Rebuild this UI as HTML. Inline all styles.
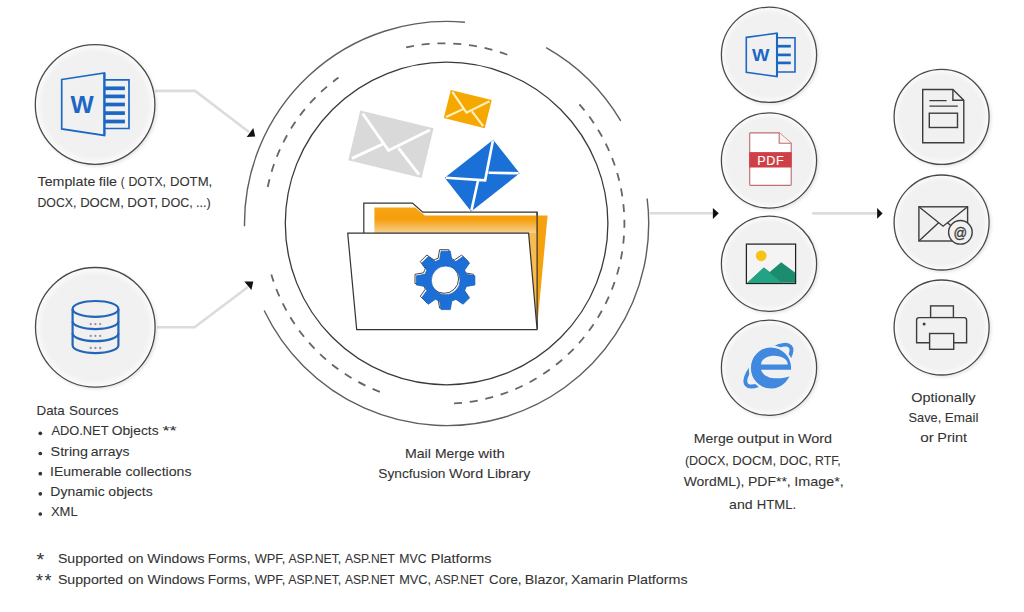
<!DOCTYPE html>
<html><head><meta charset="utf-8"><title>Mail Merge</title>
<style>
html,body{margin:0;padding:0;background:#fff;}
body{width:1024px;height:612px;overflow:hidden;}
svg{display:block;font-family:"Liberation Sans",sans-serif;}
</style></head>
<body>
<svg width="1024" height="612" viewBox="0 0 1024 612">
<rect width="1024" height="612" fill="#fff"/>
<path d="M155.3,90.9 H195.1 L249,132" stroke="#dcdcdc" stroke-width="2.6" fill="none"/>
<path d="M246.7,137 L253.3,128 L255.2,136.6 Z" fill="#111"/>
<path d="M157,327.2 H194.5 L248,287" stroke="#dcdcdc" stroke-width="2.6" fill="none"/>
<path d="M244.3,281.4 L253.3,281.6 L251.4,290 Z" fill="#111"/>
<path d="M649.7,213.3 H713" stroke="#dcdcdc" stroke-width="2.6" fill="none"/>
<path d="M712.9,208 L718.8,213.3 L712.9,219 Z" fill="#111"/>
<path d="M812.2,213.4 H877.2" stroke="#dcdcdc" stroke-width="2.6" fill="none"/>
<path d="M877.1,208.1 L882.6,213.4 L877.1,218.8 Z" fill="#111"/>
<path d="M244.52,226.32 A202.1,202.1 0 0 1 464.92,22.23" stroke="#5e5e5e" stroke-width="1.4" fill="none"/>
<path d="M546.12,47.60 A202.1,202.1 0 0 1 620.74,120.93" stroke="#5e5e5e" stroke-width="1.4" fill="none"/>
<path d="M647.15,198.52 A202.1,202.1 0 0 1 264.19,310.51" stroke="#5e5e5e" stroke-width="1.4" fill="none"/>
<path d="M267.74,186.96 A180.2,180.2 0 0 1 338.54,77.53" stroke="#666" stroke-width="1.8" fill="none" stroke-dasharray="8 7.8"/>
<path d="M406.12,47.37 A180.2,180.2 0 0 1 507.60,54.82" stroke="#666" stroke-width="1.8" fill="none" stroke-dasharray="8 7.8"/>
<path d="M579.37,104.33 A180.2,180.2 0 0 1 451.43,403.55" stroke="#666" stroke-width="1.8" fill="none" stroke-dasharray="8 7.8"/>
<path d="M379.92,391.84 A180.2,180.2 0 0 1 271.33,274.38" stroke="#666" stroke-width="1.8" fill="none" stroke-dasharray="8 7.8"/>
<circle cx="446.6" cy="223.5" r="161.3" stroke="#3a3a3a" stroke-width="1.3" fill="none"/>
<g transform="translate(360.3,110.5) rotate(13.6)"><rect x="0" y="0" width="75.4" height="51.1" fill="#d9d9d9" /><path d="M3.2,2.6 L36.9,32.2 L72.2,2.6 M3.2,48.5 L29.4,27.6 M72.2,48.5 L46.0,27.6" stroke="#fff" stroke-width="2.9" fill="none" stroke-linejoin="miter"/></g>
<g transform="translate(450.8,89.9) rotate(14)"><rect x="0" y="0" width="42.2" height="29" fill="#f6a800" /><path d="M2.0,1.6 L20.7,18.3 L40.2,1.6 M2.0,27.4 L16.5,15.7 M40.2,27.4 L25.7,15.7" stroke="#fff0c0" stroke-width="2.2" fill="none" stroke-linejoin="miter"/></g>
<path d="M363.8,233.1 V203.1 H412.5 L422.7,212.2 H537.1 V329" fill="#fff" stroke="#333" stroke-width="1.2"/>
<defs><linearGradient id="og" gradientUnits="userSpaceOnUse" x1="0" y1="207" x2="0" y2="233.5"><stop offset="0" stop-color="#f7a616"/><stop offset="0.45" stop-color="#f69e0a"/><stop offset="0.7" stop-color="#f6b546"/><stop offset="1" stop-color="#f3d49c"/></linearGradient></defs>
<path d="M374.4,233.6 V207.4 H415.2 L424.9,215.5 H537.1 V233.6 Z" fill="url(#og)"/>
<path d="M536.5,215.5 H547.6 L537.5,323 L536.5,323 Z" fill="#f6a20e"/>
<path d="M528.0,233.0 H537.1 V329 Z" fill="#f8bb4f"/>
<path d="M537.1,212.2 V329" stroke="#333" stroke-width="1.2" fill="none"/>
<g transform="translate(444.7,177.8) rotate(-38.2)"><rect x="0" y="0" width="61.7" height="42.8" fill="#1a70d6" /><path d="M0.8,0.6 L30.2,27.0 L60.9,0.6 M0.8,42.2 L24.1,23.1 M60.9,42.2 L37.6,23.1" stroke="#fff" stroke-width="2.6" fill="none" stroke-linejoin="miter"/></g>
<path d="M347.7,233.1 H528.6 L537.1,329.6 H356.7 Z" fill="#fff" stroke="#333" stroke-width="1.2" stroke-linejoin="round"/>
<path d="M439.20,259.38 L440.70,250.80 L449.90,250.80 L451.40,259.38 A21.5,21.5 0 0 1 455.56,261.11 L462.69,256.10 L469.20,262.61 L464.19,269.74 A21.5,21.5 0 0 1 465.92,273.90 L474.50,275.40 L474.50,284.60 L465.92,286.10 A21.5,21.5 0 0 1 464.19,290.26 L469.20,297.39 L462.69,303.90 L455.56,298.89 A21.5,21.5 0 0 1 451.40,300.62 L449.90,309.20 L440.70,309.20 L439.20,300.62 A21.5,21.5 0 0 1 435.04,298.89 L427.91,303.90 L421.40,297.39 L426.41,290.26 A21.5,21.5 0 0 1 424.68,286.10 L416.10,284.60 L416.10,275.40 L424.68,273.90 A21.5,21.5 0 0 1 426.41,269.74 L421.40,262.61 L427.91,256.10 L435.04,261.11 A21.5,21.5 0 0 1 439.20,259.38 Z M459.70,280.00 A14.4,14.4 0 1 0 430.90,280.00 A14.4,14.4 0 1 0 459.70,280.00 Z" transform="translate(-1.1,-1.1)" fill="#fff" fill-rule="evenodd" stroke="#333" stroke-width="0.9"/>
<path d="M439.20,259.38 L440.70,250.80 L449.90,250.80 L451.40,259.38 A21.5,21.5 0 0 1 455.56,261.11 L462.69,256.10 L469.20,262.61 L464.19,269.74 A21.5,21.5 0 0 1 465.92,273.90 L474.50,275.40 L474.50,284.60 L465.92,286.10 A21.5,21.5 0 0 1 464.19,290.26 L469.20,297.39 L462.69,303.90 L455.56,298.89 A21.5,21.5 0 0 1 451.40,300.62 L449.90,309.20 L440.70,309.20 L439.20,300.62 A21.5,21.5 0 0 1 435.04,298.89 L427.91,303.90 L421.40,297.39 L426.41,290.26 A21.5,21.5 0 0 1 424.68,286.10 L416.10,284.60 L416.10,275.40 L424.68,273.90 A21.5,21.5 0 0 1 426.41,269.74 L421.40,262.61 L427.91,256.10 L435.04,261.11 A21.5,21.5 0 0 1 439.20,259.38 Z M459.70,280.00 A14.4,14.4 0 1 0 430.90,280.00 A14.4,14.4 0 1 0 459.70,280.00 Z" transform="translate(0.4,0.4)" fill="#1b6fd6" fill-rule="evenodd" stroke="#1459b0" stroke-width="0.7"/>
<defs><radialGradient id="cg"><stop offset="0" stop-color="#f0f0f0"/><stop offset="0.87" stop-color="#f1f1f1"/><stop offset="1" stop-color="#fbfbfb"/></radialGradient><filter id="sh" x="-20%" y="-20%" width="140%" height="140%"><feDropShadow dx="1.5" dy="1.5" stdDeviation="1.8" flood-color="#000" flood-opacity="0.10"/></filter></defs>
<circle cx="95.1" cy="104.5" r="59.8" fill="url(#cg)" stroke="#4a4a4a" stroke-width="1.3" filter="url(#sh)"/>
<circle cx="95.3" cy="327.3" r="59.8" fill="url(#cg)" stroke="#4a4a4a" stroke-width="1.3" filter="url(#sh)"/>
<circle cx="769" cy="54.8" r="47.6" fill="url(#cg)" stroke="#4a4a4a" stroke-width="1.3" filter="url(#sh)"/>
<circle cx="769" cy="160.5" r="47.6" fill="url(#cg)" stroke="#4a4a4a" stroke-width="1.3" filter="url(#sh)"/>
<circle cx="769" cy="263.7" r="47.6" fill="url(#cg)" stroke="#4a4a4a" stroke-width="1.3" filter="url(#sh)"/>
<circle cx="769" cy="367.7" r="47.6" fill="url(#cg)" stroke="#4a4a4a" stroke-width="1.3" filter="url(#sh)"/>
<circle cx="941.6" cy="116.9" r="47.5" fill="url(#cg)" stroke="#4a4a4a" stroke-width="1.3" filter="url(#sh)"/>
<circle cx="941.6" cy="222.5" r="47.5" fill="url(#cg)" stroke="#4a4a4a" stroke-width="1.3" filter="url(#sh)"/>
<circle cx="941.6" cy="327.5" r="47.5" fill="url(#cg)" stroke="#4a4a4a" stroke-width="1.3" filter="url(#sh)"/>
<path d="M61.7,79.5 L104.4,73.0 V135.4 L61.7,128.9 Z" fill="none" stroke="#1c67c4" stroke-width="1.7" stroke-linejoin="miter"/><path d="M104.4,79.9 H129.0 V128.5 H104.4" fill="none" stroke="#1c67c4" stroke-width="1.7"/><path d="M104.4,73.0 V135.4" stroke="#1c67c4" stroke-width="2.21"/><rect x="104.4" y="86.45" width="20.50" height="3.7" fill="#1c67c4"/><rect x="104.4" y="94.55" width="20.50" height="3.7" fill="#1c67c4"/><rect x="104.4" y="102.65" width="20.50" height="3.7" fill="#1c67c4"/><rect x="104.4" y="111.25" width="20.50" height="3.7" fill="#1c67c4"/><rect x="104.4" y="119.65" width="20.50" height="3.7" fill="#1c67c4"/><text x="70.40" y="112.7" font-size="23.32402234636872" fill="#1c67c4" font-weight="bold" textLength="23.20" lengthAdjust="spacingAndGlyphs">W</text>
<path d="M746.3,37.4 L777.0,33.2 V76.6 L746.3,72.3 Z" fill="none" stroke="#1c67c4" stroke-width="1.6" stroke-linejoin="miter"/><path d="M777.0,37.8 H795.0 V72.0 H777.0" fill="none" stroke="#1c67c4" stroke-width="1.6"/><path d="M777.0,33.2 V76.6" stroke="#1c67c4" stroke-width="2.08"/><rect x="777.0" y="44.85" width="13.80" height="2.7" fill="#1c67c4"/><rect x="777.0" y="53.55" width="13.80" height="2.7" fill="#1c67c4"/><rect x="777.0" y="61.55" width="13.80" height="2.7" fill="#1c67c4"/><text x="752.10" y="60.8" font-size="17.31843575418994" fill="#1c67c4" font-weight="bold" textLength="17.40" lengthAdjust="spacingAndGlyphs">W</text>
<g fill="none" stroke="#2366b8" stroke-width="2.2"><ellipse cx="95.5" cy="308.9" rx="22.900000000000006" ry="7.9"/><path d="M72.6,308.9 V345.2 A22.900000000000006,7.9 0 0 0 118.4,345.2 V308.9"/><path d="M72.6,321.2 A22.900000000000006,7.9 0 0 0 118.4,321.2"/><path d="M72.6,333.3 A22.900000000000006,7.9 0 0 0 118.4,333.3"/></g><circle cx="90.7" cy="324.1" r="1.15" fill="#8f8ea6"/><circle cx="95.4" cy="324.1" r="1.15" fill="#8f8ea6"/><circle cx="100.2" cy="324.1" r="1.15" fill="#8f8ea6"/><circle cx="90.7" cy="335.9" r="1.15" fill="#8f8ea6"/><circle cx="95.4" cy="335.9" r="1.15" fill="#8f8ea6"/><circle cx="100.2" cy="335.9" r="1.15" fill="#8f8ea6"/><circle cx="90.7" cy="348.0" r="1.15" fill="#8f8ea6"/><circle cx="95.4" cy="348.0" r="1.15" fill="#8f8ea6"/><circle cx="100.2" cy="348.0" r="1.15" fill="#8f8ea6"/>
<path d="M749.7,133.6 Q749.7,132.8 750.5,132.8 H779.2 L791.2,143.2 V184.5 Q791.2,185.3 790.4,185.3 H750.5 Q749.7,185.3 749.7,184.5 Z" fill="#fff" stroke="#bf6f73" stroke-width="1.15"/>
<path d="M779.2,132.8 V143.2 H791.2" fill="#f8f4f4" stroke="#bf6f73" stroke-width="1.15"/>
<rect x="749.2" y="152.1" width="42.5" height="15.4" fill="#cf3f46"/>
<text x="757.20" y="164.9" font-size="12.6" fill="#fff" stroke="#fff" stroke-width="0.1" font-weight="normal" textLength="26.40" lengthAdjust="spacing">PDF</text>
<rect x="746.4" y="244.1" width="49.2" height="39.4" fill="#f4f4f4" stroke="#222" stroke-width="1.25"/>
<circle cx="761.2" cy="255.8" r="5.4" fill="#f6c417"/>
<path d="M747.3,282.8 L763.9,267.4 L769.7,272 L781.2,262.2 L795.0,272.6 V282.8 Z" fill="#1b8c6e"/>
<path d="M747.3,282.8 L763.9,267.5 L772,274.5 L782,282.8 Z" fill="#22a383"/>
<ellipse cx="768.4" cy="365.6" rx="29" ry="11.2" transform="rotate(-41.2 768.4 365.6)" fill="none" stroke="#4189de" stroke-width="3.9"/>
<ellipse cx="771.0" cy="368.0" rx="21.2" ry="21.7" fill="#4189de" stroke="#f1f1f1" stroke-width="2.2"/>
<path d="M761.1,364.6 C761.1,359.2 767,355.7 774.4,355.7 C781.8,355.7 787.8,359.2 787.8,364.6 Z" fill="#f1f1f1"/>
<path d="M761,369.7 H793.5 V375.7 L790.5,375.9 C786,377.8 780,378.6 774,378.2 C767.5,377.8 762.5,374.5 761,369.7 Z" fill="#f1f1f1"/>
<g fill="none" stroke="#3c3c3c" stroke-width="1.4"><path d="M922.7,89.5 H952.9 L963.8,100.2 V142.8 H922.7 Z"/><path d="M952.9,89.5 V100.2 H963.8"/><path d="M929.4,100.6 H946.6 M929.4,106.1 H957.8"/><rect x="929.3" y="113.2" width="28.2" height="14.3"/></g>
<g fill="none" stroke="#3c3c3c" stroke-width="1.4"><rect x="918.9" y="206.8" width="48.7" height="34.2"/><path d="M918.9,206.8 L943.1,226.2 L967.6,206.8 M918.9,241 L938.6,222.7 M967.6,241 L947.6,222.7"/></g>
<circle cx="960.4" cy="232.3" r="11.8" fill="#f1f1f1" stroke="#3c3c3c" stroke-width="1.4"/>
<text x="953.60" y="237.6" font-size="15" fill="#3c3c3c" stroke="#3c3c3c" stroke-width="0.35" font-weight="normal" textLength="13.60" lengthAdjust="spacingAndGlyphs">@</text>
<g fill="#f1f1f1" stroke="#3c3c3c" stroke-width="1.4"><rect x="930.6" y="305.9" width="22.8" height="11.7"/><path d="M916.6,342.8 V320 Q916.6,317.6 919,317.6 H964.2 Q966.6,317.6 966.6,320 V342.8 Z"/><rect x="929.6" y="333.5" width="24.1" height="15.8"/></g>
<circle cx="924.1" cy="323.9" r="1.5" fill="#3c3c3c"/>
<text x="37.53" y="185.8" font-size="13.3" fill="#333" stroke="#333" stroke-width="0.08" textLength="57.83" lengthAdjust="spacingAndGlyphs">Template</text>
<text x="98.77" y="185.8" font-size="13.3" fill="#333" stroke="#333" stroke-width="0.08" textLength="18.34" lengthAdjust="spacingAndGlyphs">file</text>
<text x="120.63" y="185.8" font-size="13.3" fill="#333" stroke="#333" stroke-width="0.08" textLength="3.76" lengthAdjust="spacingAndGlyphs">(</text>
<text x="128.49" y="185.8" font-size="13.3" fill="#333" stroke="#333" stroke-width="0.08" textLength="37.54" lengthAdjust="spacingAndGlyphs">DOTX,</text>
<text x="169.91" y="185.8" font-size="13.3" fill="#333" stroke="#333" stroke-width="0.08" textLength="42.32" lengthAdjust="spacingAndGlyphs">DOTM,</text>
<text x="37.47" y="207.1" font-size="13.3" fill="#333" stroke="#333" stroke-width="0.08" textLength="38.97" lengthAdjust="spacingAndGlyphs">DOCX,</text>
<text x="80.13" y="207.1" font-size="13.3" fill="#333" stroke="#333" stroke-width="0.08" textLength="43.77" lengthAdjust="spacingAndGlyphs">DOCM,</text>
<text x="127.29" y="207.1" font-size="13.3" fill="#333" stroke="#333" stroke-width="0.08" textLength="30.63" lengthAdjust="spacingAndGlyphs">DOT,</text>
<text x="161.37" y="207.1" font-size="13.3" fill="#333" stroke="#333" stroke-width="0.08" textLength="31.43" lengthAdjust="spacingAndGlyphs">DOC,</text>
<text x="195.89" y="207.1" font-size="13.3" fill="#333" stroke="#333" stroke-width="0.08" textLength="14.84" lengthAdjust="spacingAndGlyphs">...)</text>
<text x="36.49" y="414.9" font-size="13.3" fill="#333" stroke="#333" stroke-width="0.08" textLength="28.27" lengthAdjust="spacingAndGlyphs">Data</text>
<text x="68.94" y="414.9" font-size="13.3" fill="#333" stroke="#333" stroke-width="0.08" textLength="49.60" lengthAdjust="spacingAndGlyphs">Sources</text>
<text x="51.40" y="435.3" font-size="13.3" fill="#333" stroke="#333" stroke-width="0.08" textLength="57.14" lengthAdjust="spacingAndGlyphs">ADO.NET</text>
<text x="111.67" y="435.3" font-size="13.3" fill="#333" stroke="#333" stroke-width="0.08" textLength="46.94" lengthAdjust="spacingAndGlyphs">Objects</text>
<text x="162.40" y="435.3" font-size="13.3" fill="#333" stroke="#333" stroke-width="0.08" textLength="14.09" lengthAdjust="spacingAndGlyphs">**</text>
<text x="50.59" y="455.5" font-size="13.3" fill="#333" stroke="#333" stroke-width="0.08" textLength="37.45" lengthAdjust="spacingAndGlyphs">String</text>
<text x="90.73" y="455.5" font-size="13.3" fill="#333" stroke="#333" stroke-width="0.08" textLength="38.84" lengthAdjust="spacingAndGlyphs">arrays</text>
<text x="50.09" y="475.7" font-size="13.3" fill="#333" stroke="#333" stroke-width="0.08" textLength="71.46" lengthAdjust="spacingAndGlyphs">IEumerable</text>
<text x="125.53" y="475.7" font-size="13.3" fill="#333" stroke="#333" stroke-width="0.08" textLength="65.99" lengthAdjust="spacingAndGlyphs">collections</text>
<text x="50.35" y="495.8" font-size="13.3" fill="#333" stroke="#333" stroke-width="0.08" textLength="54.28" lengthAdjust="spacingAndGlyphs">Dynamic</text>
<text x="108.39" y="495.8" font-size="13.3" fill="#333" stroke="#333" stroke-width="0.08" textLength="44.32" lengthAdjust="spacingAndGlyphs">objects</text>
<text x="50.91" y="516.0" font-size="13.3" fill="#333" stroke="#333" stroke-width="0.08" textLength="26.72" lengthAdjust="spacingAndGlyphs">XML</text>
<text x="404.90" y="458.0" font-size="13.3" fill="#333" stroke="#333" stroke-width="0.08" textLength="25.98" lengthAdjust="spacingAndGlyphs">Mail</text>
<text x="434.93" y="458.0" font-size="13.3" fill="#333" stroke="#333" stroke-width="0.08" textLength="39.63" lengthAdjust="spacingAndGlyphs">Merge</text>
<text x="478.36" y="458.0" font-size="13.3" fill="#333" stroke="#333" stroke-width="0.08" textLength="26.49" lengthAdjust="spacingAndGlyphs">with</text>
<text x="378.23" y="478.4" font-size="13.3" fill="#333" stroke="#333" stroke-width="0.08" textLength="67.19" lengthAdjust="spacingAndGlyphs">Syncfusion</text>
<text x="449.10" y="478.4" font-size="13.3" fill="#333" stroke="#333" stroke-width="0.08" textLength="34.04" lengthAdjust="spacingAndGlyphs">Word</text>
<text x="487.01" y="478.4" font-size="13.3" fill="#333" stroke="#333" stroke-width="0.08" textLength="43.46" lengthAdjust="spacingAndGlyphs">Library</text>
<text x="693.76" y="442.5" font-size="13.3" fill="#333" stroke="#333" stroke-width="0.08" textLength="39.89" lengthAdjust="spacingAndGlyphs">Merge</text>
<text x="737.38" y="442.5" font-size="13.3" fill="#333" stroke="#333" stroke-width="0.08" textLength="41.95" lengthAdjust="spacingAndGlyphs">output</text>
<text x="783.01" y="442.5" font-size="13.3" fill="#333" stroke="#333" stroke-width="0.08" textLength="11.37" lengthAdjust="spacingAndGlyphs">in</text>
<text x="797.97" y="442.5" font-size="13.3" fill="#333" stroke="#333" stroke-width="0.08" textLength="34.16" lengthAdjust="spacingAndGlyphs">Word</text>
<text x="684.89" y="464.5" font-size="13.3" fill="#333" stroke="#333" stroke-width="0.08" textLength="43.90" lengthAdjust="spacingAndGlyphs">(DOCX,</text>
<text x="732.33" y="464.5" font-size="13.3" fill="#333" stroke="#333" stroke-width="0.08" textLength="43.77" lengthAdjust="spacingAndGlyphs">DOCM,</text>
<text x="779.58" y="464.5" font-size="13.3" fill="#333" stroke="#333" stroke-width="0.08" textLength="31.89" lengthAdjust="spacingAndGlyphs">DOC,</text>
<text x="815.09" y="464.5" font-size="13.3" fill="#333" stroke="#333" stroke-width="0.08" textLength="25.63" lengthAdjust="spacingAndGlyphs">RTF,</text>
<text x="683.74" y="486.4" font-size="13.3" fill="#333" stroke="#333" stroke-width="0.08" textLength="60.74" lengthAdjust="spacingAndGlyphs">WordML),</text>
<text x="748.03" y="486.4" font-size="13.3" fill="#333" stroke="#333" stroke-width="0.08" textLength="42.70" lengthAdjust="spacingAndGlyphs">PDF**,</text>
<text x="794.21" y="486.4" font-size="13.3" fill="#333" stroke="#333" stroke-width="0.08" textLength="49.52" lengthAdjust="spacingAndGlyphs">Image*,</text>
<text x="729.07" y="508.9" font-size="13.3" fill="#333" stroke="#333" stroke-width="0.08" textLength="23.58" lengthAdjust="spacingAndGlyphs">and</text>
<text x="756.68" y="508.9" font-size="13.3" fill="#333" stroke="#333" stroke-width="0.08" textLength="39.47" lengthAdjust="spacingAndGlyphs">HTML.</text>
<text x="911.28" y="402.0" font-size="13.3" fill="#333" stroke="#333" stroke-width="0.08" textLength="64.28" lengthAdjust="spacingAndGlyphs">Optionally</text>
<text x="908.55" y="422.2" font-size="13.3" fill="#333" stroke="#333" stroke-width="0.08" textLength="32.71" lengthAdjust="spacingAndGlyphs">Save,</text>
<text x="944.84" y="422.2" font-size="13.3" fill="#333" stroke="#333" stroke-width="0.08" textLength="33.55" lengthAdjust="spacingAndGlyphs">Email</text>
<text x="920.25" y="442.1" font-size="13.3" fill="#333" stroke="#333" stroke-width="0.08" textLength="13.56" lengthAdjust="spacingAndGlyphs">or</text>
<text x="937.39" y="442.1" font-size="13.3" fill="#333" stroke="#333" stroke-width="0.08" textLength="29.69" lengthAdjust="spacingAndGlyphs">Print</text>
<text x="57.90" y="562.9" font-size="13.3" fill="#333" stroke="#333" stroke-width="0.08" textLength="65.19" lengthAdjust="spacingAndGlyphs">Supported</text>
<text x="127.97" y="562.9" font-size="13.3" fill="#333" stroke="#333" stroke-width="0.08" textLength="15.55" lengthAdjust="spacingAndGlyphs">on</text>
<text x="147.34" y="562.9" font-size="13.3" fill="#333" stroke="#333" stroke-width="0.08" textLength="57.14" lengthAdjust="spacingAndGlyphs">Windows</text>
<text x="207.87" y="562.9" font-size="13.3" fill="#333" stroke="#333" stroke-width="0.08" textLength="42.69" lengthAdjust="spacingAndGlyphs">Forms,</text>
<text x="254.66" y="562.9" font-size="13.3" fill="#333" stroke="#333" stroke-width="0.08" textLength="30.58" lengthAdjust="spacingAndGlyphs">WPF,</text>
<text x="288.40" y="562.9" font-size="13.3" fill="#333" stroke="#333" stroke-width="0.08" textLength="52.86" lengthAdjust="spacingAndGlyphs">ASP.NET,</text>
<text x="345.00" y="562.9" font-size="13.3" fill="#333" stroke="#333" stroke-width="0.08" textLength="49.97" lengthAdjust="spacingAndGlyphs">ASP.NET</text>
<text x="399.28" y="562.9" font-size="13.3" fill="#333" stroke="#333" stroke-width="0.08" textLength="27.24" lengthAdjust="spacingAndGlyphs">MVC</text>
<text x="430.82" y="562.9" font-size="13.3" fill="#333" stroke="#333" stroke-width="0.08" textLength="60.72" lengthAdjust="spacingAndGlyphs">Platforms</text>
<text x="57.90" y="583.6" font-size="13.3" fill="#333" stroke="#333" stroke-width="0.08" textLength="65.31" lengthAdjust="spacingAndGlyphs">Supported</text>
<text x="127.97" y="583.6" font-size="13.3" fill="#333" stroke="#333" stroke-width="0.08" textLength="15.58" lengthAdjust="spacingAndGlyphs">on</text>
<text x="147.54" y="583.6" font-size="13.3" fill="#333" stroke="#333" stroke-width="0.08" textLength="56.94" lengthAdjust="spacingAndGlyphs">Windows</text>
<text x="207.87" y="583.6" font-size="13.3" fill="#333" stroke="#333" stroke-width="0.08" textLength="42.69" lengthAdjust="spacingAndGlyphs">Forms,</text>
<text x="254.66" y="583.6" font-size="13.3" fill="#333" stroke="#333" stroke-width="0.08" textLength="30.64" lengthAdjust="spacingAndGlyphs">WPF,</text>
<text x="288.20" y="583.6" font-size="13.3" fill="#333" stroke="#333" stroke-width="0.08" textLength="53.07" lengthAdjust="spacingAndGlyphs">ASP.NET,</text>
<text x="345.00" y="583.6" font-size="13.3" fill="#333" stroke="#333" stroke-width="0.08" textLength="49.97" lengthAdjust="spacingAndGlyphs">ASP.NET</text>
<text x="399.14" y="583.6" font-size="13.3" fill="#333" stroke="#333" stroke-width="0.08" textLength="31.96" lengthAdjust="spacingAndGlyphs">MVC,</text>
<text x="434.80" y="583.6" font-size="13.3" fill="#333" stroke="#333" stroke-width="0.08" textLength="49.27" lengthAdjust="spacingAndGlyphs">ASP.NET</text>
<text x="489.05" y="583.6" font-size="13.3" fill="#333" stroke="#333" stroke-width="0.08" textLength="32.52" lengthAdjust="spacingAndGlyphs">Core,</text>
<text x="524.83" y="583.6" font-size="13.3" fill="#333" stroke="#333" stroke-width="0.08" textLength="43.40" lengthAdjust="spacingAndGlyphs">Blazor,</text>
<text x="571.07" y="583.6" font-size="13.3" fill="#333" stroke="#333" stroke-width="0.08" textLength="52.44" lengthAdjust="spacingAndGlyphs">Xamarin</text>
<text x="627.22" y="583.6" font-size="13.3" fill="#333" stroke="#333" stroke-width="0.08" textLength="60.41" lengthAdjust="spacingAndGlyphs">Platforms</text>
<text x="36.60" y="565.9" font-size="18.5" fill="#333" font-weight="normal" textLength="7.70" lengthAdjust="spacingAndGlyphs">*</text>
<text x="35.90" y="586.5" font-size="18" fill="#333" font-weight="normal" textLength="15.60" lengthAdjust="spacing">**</text>
<circle cx="40.3" cy="433.3" r="1.85" fill="#333"/>
<circle cx="40.3" cy="453.5" r="1.85" fill="#333"/>
<circle cx="40.3" cy="473.7" r="1.85" fill="#333"/>
<circle cx="40.3" cy="493.8" r="1.85" fill="#333"/>
<circle cx="40.3" cy="514.0" r="1.85" fill="#333"/>
</svg>
</body></html>
